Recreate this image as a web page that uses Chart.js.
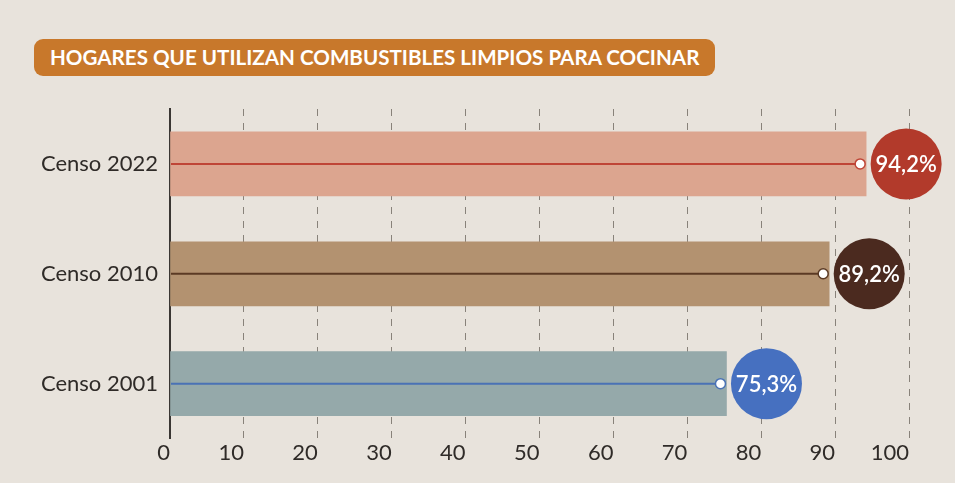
<!DOCTYPE html>
<html>
<head>
<meta charset="utf-8">
<script src="https://cdn.jsdelivr.net/npm/chart.js@4.4.1/dist/chart.umd.min.js"></script>
<style>
  html, body { margin: 0; padding: 0; background: #e8e3dc; }
  #wrap { position: relative; width: 955px; height: 483px; overflow: hidden; background: #e8e3dc; }
  #title {
    position: absolute; left: 34px; top: 39px; height: 37px; padding: 0 16px 0 16px;
    background: #c8782b; border-radius: 9px; color: #fff;
    font-family: Lato, sans-serif; font-weight: bold; font-size: 20.6px; line-height: 37px;
    white-space: nowrap; z-index: 2;
  }
  canvas { position: absolute; left: 0; top: 0; }
</style>
</head>
<body>
<div id="wrap">
  <div id="title">HOGARES QUE UTILIZAN COMBUSTIBLES LIMPIOS PARA COCINAR</div>
  <canvas id="c" width="955" height="483"></canvas>
</div>
<script>
// ---- data ----
const categories = ['Censo 2022', 'Censo 2010', 'Censo 2001'];
const values = [94.2, 89.2, 75.3];
const xTicks = [0, 10, 20, 30, 40, 50, 60, 70, 80, 90, 100];

// ---- styles ----
const barColors = ['#dca58f', '#b39270', '#95a9aa'];
const lineColors = ['#bf4536', '#5b3a24', '#4a72b5'];
const bubbleColors = ['#b23a2b', '#4b2a1f', '#4670c0'];

function fmt(v) { return v.toFixed(1).replace('.', ',') + '%'; }

const decor = {
  id: 'decor',
  afterDraw(chart) {
    const ctx = chart.ctx, xs = chart.scales.x, ys = chart.scales.y;
    const x0 = xs.getPixelForValue(0);
    values.forEach((v, i) => {
      const py = ys.getPixelForValue(i);
      const px = xs.getPixelForValue(v) - 6;
      ctx.save();
      ctx.strokeStyle = lineColors[i];
      ctx.lineWidth = 2;
      ctx.beginPath(); ctx.moveTo(x0 + 1, py); ctx.lineTo(px, py); ctx.stroke();
      ctx.beginPath(); ctx.arc(px, py, 5, 0, Math.PI * 2);
      ctx.fillStyle = '#fff'; ctx.fill(); ctx.lineWidth = 1.5; ctx.stroke();
      const bx = px + 46;
      ctx.beginPath(); ctx.arc(bx, py, 35.5, 0, Math.PI * 2);
      ctx.fillStyle = bubbleColors[i]; ctx.fill();
      ctx.fillStyle = '#fff';
      ctx.font = '600 22px Lato';
      ctx.textAlign = 'center'; ctx.textBaseline = 'middle';
      ctx.fillText(fmt(v), bx, py + 1);
      ctx.restore();
    });
  }
};

function draw() {
  new Chart(document.getElementById('c'), {
    type: 'bar',
    data: {
      labels: categories,
      datasets: [{ data: values, backgroundColor: barColors, barThickness: 64, borderWidth: 0 }]
    },
    options: {
      indexAxis: 'y',
      responsive: false,
      animation: false,
      devicePixelRatio: 1,
      layout: { padding: { top: 109, right: 46, bottom: 16, left: 0 } },
      plugins: { legend: { display: false }, tooltip: { enabled: false } },
      scales: {
        x: {
          type: 'linear', min: 0, max: 100, z: 1,
          afterBuildTicks: s => { s.ticks = xTicks.map(v => ({ value: v })); },
          ticks: { align: 'end', color: '#2f2b28', font: { family: 'Lato', size: 22 }, padding: 1 },
          grid: {
            color: c => (c.tick && c.tick.value === 0) ? 'rgba(0,0,0,0)' : 'rgba(95,88,80,0.7)',
            lineWidth: 1, drawTicks: false
          },
          border: { display: false, dash: [7, 7] }
        },
        y: {
          ticks: { color: '#2f2b28', font: { family: 'Lato', size: 22 }, padding: 12 },
          grid: { display: false, drawTicks: false },
          border: { display: true, color: '#3a3633', width: 2 },
          afterFit: s => { s.width = 170; }
        }
      }
    },
    plugins: [decor]
  });
}

Promise.all([
  document.fonts.load('22px Lato'),
  document.fonts.load('600 22px Lato'),
  document.fonts.load('bold 20px Lato')
]).then(draw, draw);
</script>
</body>
</html>
